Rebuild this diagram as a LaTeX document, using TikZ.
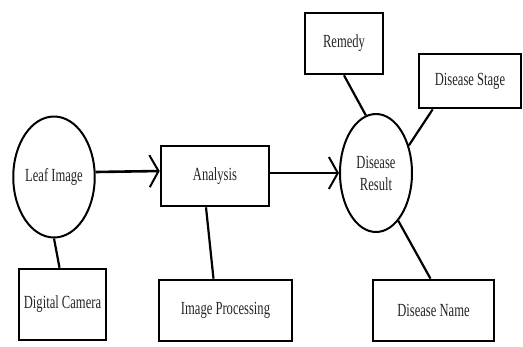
\documentclass[tikz,border=0pt]{standalone}
\usepackage{fontspec}
\setmainfont[FakeStretch=0.68]{Liberation Serif}
\usetikzlibrary{shapes.geometric,arrows.meta}
\begin{document}
\begin{tikzpicture}[x=1pt,y=-1pt,
  box/.style={draw, line width=2.6pt, rectangle, inner sep=0pt, font=\fontsize{18.5}{22}\selectfont, text=black!85},
  oval/.style={draw, line width=2pt, ellipse, inner sep=0pt, font=\fontsize{18.5}{22}\selectfont, text=black!85, align=center},
  link/.style={line width=2.2pt},
  flow/.style={line width=2.6pt, -{Straight Barb[length=9pt,width=32pt,line width=2pt]}}]
\useasboundingbox[fill=white] (0,0) rectangle (523,346);
\node[oval, minimum width=74pt, minimum height=121pt] (leaf) at (54,177) {Leaf Image};
\node[box, minimum width=87pt, minimum height=71pt] (cam) at (62.5,304.5) {Digital Camera};
\node[box, minimum width=108pt, minimum height=60pt] (ana) at (215,176) {Analysis};
\node[box, minimum width=133pt, minimum height=61pt] (ip) at (225.5,310.5) {Image Processing};
\node[oval, minimum width=72pt, minimum height=118pt] (dr) at (376,173) {Disease\\Result};
\node[box, minimum width=78pt, minimum height=61pt] (rem) at (344,43.5) {Remedy};
\node[box, minimum width=102pt, minimum height=54pt] (ds) at (470,81) {Disease Stage};
\node[box, minimum width=121pt, minimum height=61pt] (dn) at (433.5,310.5) {Disease Name};
\draw[link] (leaf.south) -- ([xshift=-3pt]cam.north);
\draw[flow] ([yshift=5pt]leaf.east) -- ([yshift=5pt]ana.west);
\draw[link] ([xshift=-9pt]ana.south) -- ([xshift=-12pt]ip.north);
\draw[flow] ([yshift=3pt]ana.east) -- (dr.west);
\draw[link] (rem.south) -- (dr.100);
\draw[link] ([xshift=15pt]ds.south west) -- (dr.40);
\draw[link] (dr.-65) -- ([xshift=-3pt]dn.north);
\end{tikzpicture}
\end{document}
